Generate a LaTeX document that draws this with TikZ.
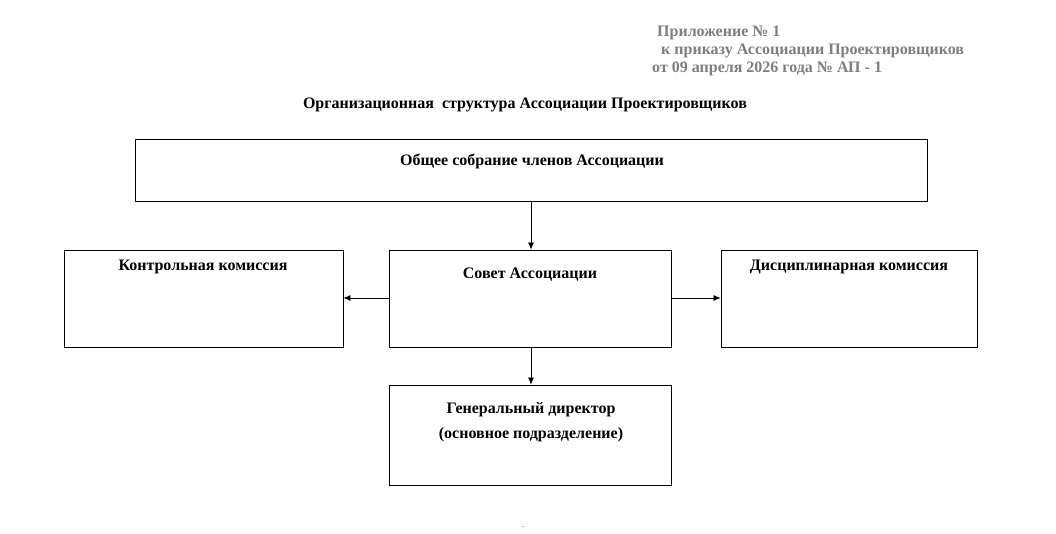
\documentclass[tikz,border=0pt]{standalone}
\usepackage{fontspec}
\setmainfont{Liberation Serif}
\usetikzlibrary{arrows.meta}
\definecolor{hdrgray}{HTML}{7F7F7F}
\begin{document}
\begin{tikzpicture}[x=1pt,y=-1pt,
  box/.style={draw=black,line width=0.8pt,rectangle,inner sep=0pt},
  lbl/.style={anchor=base,inner sep=0pt,font=\fontsize{16}{19}\selectfont\bfseries},
  hdr/.style={anchor=base west,inner sep=0pt,text=hdrgray,font=\fontsize{16}{19}\selectfont\bfseries},
  conn/.style={draw=black,line width=0.7pt,-{Latex[length=7pt,width=6pt]}}]
\useasboundingbox[fill=white] (0,0) rectangle (1056,533);
% header
\node[hdr] (h1) at (657,36) {Приложение № 1};
\node[hdr] (h2) at (657,54) {\ к приказу Ассоциации Проектировщиков};
\node[hdr] (h3) at (652,72) {от 09 апреля 2026 года № АП - 1};
\node[lbl] (title) at (525,108) {Организационная\ \ структура Ассоциации Проектировщиков};
% boxes
\node[box,minimum width=792pt,minimum height=62pt] (top) at (531,170) {};
\node[box,minimum width=279pt,minimum height=97pt] (left) at (203.5,298.5) {};
\node[box,minimum width=282pt,minimum height=97pt] (mid) at (530,298.5) {};
\node[box,minimum width=256pt,minimum height=97pt] (right) at (849,298.5) {};
\node[box,minimum width=282pt,minimum height=100pt] (bot) at (530,435) {};
% labels
\node[lbl] (ttop) at (532,165) {Общее собрание членов Ассоциации};
\node[lbl] (tleft) at (203,270) {Контрольная комиссия};
\node[lbl] (tmid) at (530,278) {Совет Ассоциации};
\node[lbl] (tright) at (849,270) {Дисциплинарная комиссия};
\node[lbl] (tbot1) at (531,413) {Генеральный директор};
\node[lbl] (tbot2) at (531,438) {(основное подразделение)};
\node[inner sep=0pt,font=\fontsize{8}{8}\selectfont,anchor=base] (dot) at (523,527) {.};
% connectors
\draw[conn] (top.south -| 531,0) -- (mid.north -| 531,0);
\draw[conn] (mid.west |- 0,298) -- (left.east |- 0,298);
\draw[conn] (mid.east |- 0,298) -- (right.west |- 0,298);
\draw[conn] (mid.south -| 531,0) -- (bot.north -| 531,0);
\end{tikzpicture}
\end{document}
